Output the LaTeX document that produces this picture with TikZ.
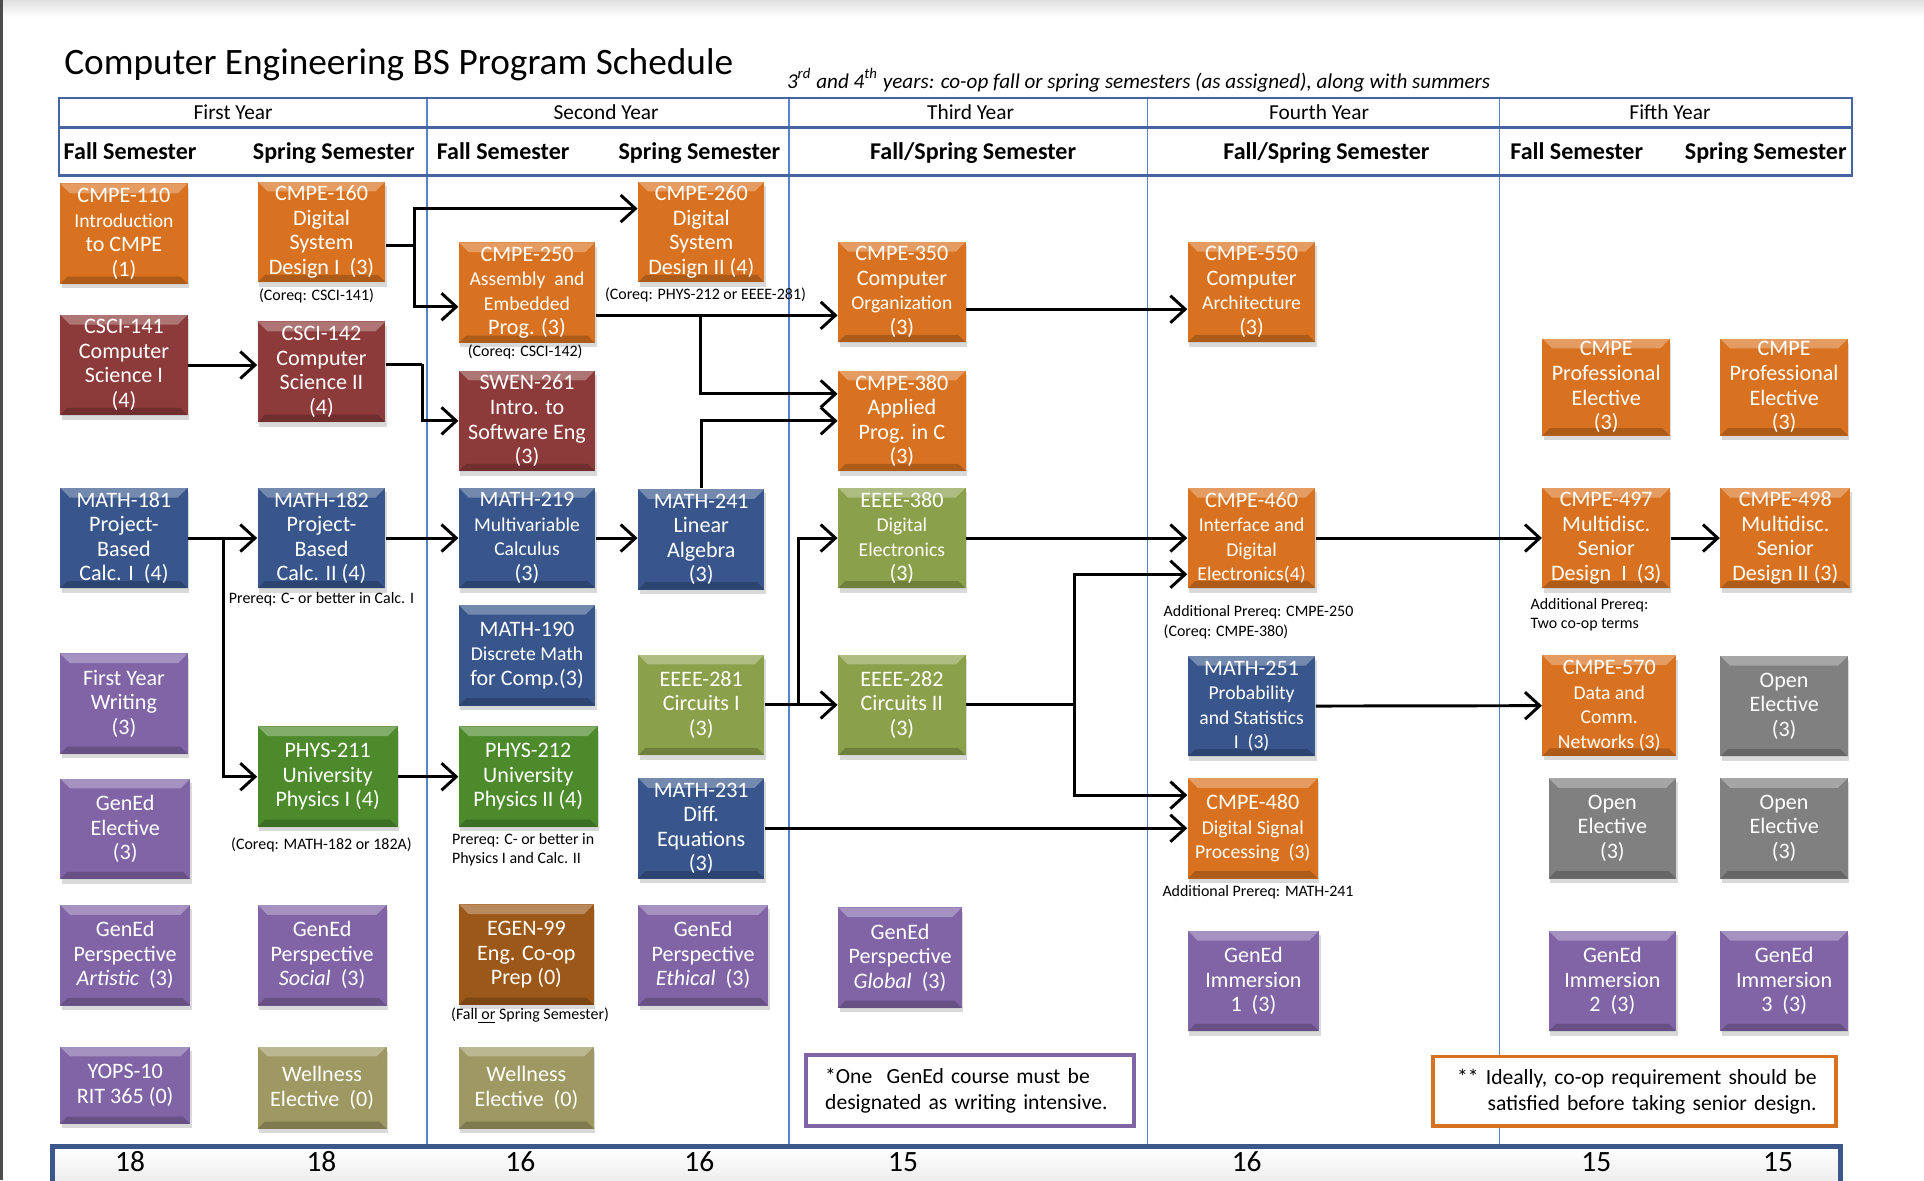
\documentclass[tikz,border=0pt]{standalone}
\usepackage{fontspec}
\setmainfont{Carlito}
\usetikzlibrary{arrows.meta,shadows}

\definecolor{corange}{RGB}{217,114,32}
\definecolor{cred}{RGB}{140,58,58}
\definecolor{cblue}{RGB}{56,86,140}
\definecolor{cpurple}{RGB}{128,100,166}
\definecolor{cgreen}{RGB}{76,138,44}
\definecolor{colive}{RGB}{138,160,74}
\definecolor{cbrown}{RGB}{156,88,24}
\definecolor{ckhaki}{RGB}{158,152,98}
\definecolor{cgray}{RGB}{128,128,128}
\definecolor{rulecol}{RGB}{90,130,200}
\definecolor{hdrcol}{RGB}{70,100,160}
\definecolor{barcol}{RGB}{60,88,138}

\newcommand\sm[1]{{\fontsize{8}{10}\selectfont #1}}

\tikzset{
  course/.style={fill=#1, text=white, align=center, inner sep=1pt,
    minimum width=52pt, minimum height=41pt,
    font=\fontsize{9}{10}\selectfont,
    drop shadow={shadow xshift=0.6pt, shadow yshift=-1.8pt, opacity=0.3},
    path picture={
      \fill[white,opacity=0.3] (path picture bounding box.north west) -- (path picture bounding box.north east)
        -- ([xshift=-4pt,yshift=-4pt]path picture bounding box.north east) -- ([xshift=4pt,yshift=-4pt]path picture bounding box.north west) -- cycle;
      \fill[black,opacity=0.2] (path picture bounding box.south west) -- (path picture bounding box.south east)
        -- ([xshift=-3pt,yshift=3pt]path picture bounding box.south east) -- ([xshift=3pt,yshift=3pt]path picture bounding box.south west) -- cycle;
    }},
  orangebox/.style={course=corange},
  redbox/.style={course=cred},
  bluebox/.style={course=cblue},
  purplebox/.style={course=cpurple},
  greenbox/.style={course=cgreen},
  olivebox/.style={course=colive},
  brownbox/.style={course=cbrown},
  khakibox/.style={course=ckhaki},
  graybox/.style={course=cgray},
  yearlabel/.style={anchor=base, font=\fontsize{8.7}{10}\selectfont, inner sep=0pt},
  semlabel/.style={anchor=base, font=\fontsize{9.8}{11}\selectfont\bfseries, inner sep=0pt},
  credit/.style={anchor=base, font=\fontsize{12}{14}\selectfont, inner sep=0pt},
  remark/.style={font=\fontsize{6.5}{8}\selectfont, inner sep=0pt},
  wire/.style={line width=1.2pt},
  link/.style={line width=1.2pt, -{Straight Barb[length=6pt,width=11pt]}},
  infobox/.style={fill=white, line width=1.6pt, inner xsep=8pt, inner ysep=0pt, font=\fontsize{8.8}{10.5}\selectfont}
}

\begin{document}
\begin{tikzpicture}[x=0.5pt,y=-0.5pt]
\useasboundingbox (0,0) rectangle (1568,962);
% page edges
\shade[top color=black!12, bottom color=white] (0,0) rectangle (1568,14);
\draw[line width=1.5pt, black!70] (0.8,0) -- (0.8,962);

% title
\node[anchor=base west, inner sep=0pt, font=\fontsize{15.2}{18}\selectfont] (title) at (52,61) {Computer Engineering BS Program Schedule};
\node[anchor=base west, inner sep=0pt, font=\fontsize{8.6}{10}\selectfont\itshape] (coop) at (641,72)
  {3\textsuperscript{rd} and 4\textsuperscript{th} years: co-op fall or spring semesters (as assigned), along with summers};

% header table
\foreach \x in {348,643,935,1222}
  \draw[rulecol, line width=0.6pt] (\x,80) -- (\x,933);
\draw[hdrcol, line width=0.9pt] (48,80) rectangle (1509,143);
\draw[hdrcol, line width=1.4pt] (48,104) -- (1509,104);
\foreach \x/\yr in {190/First Year,494/Second Year,791/Third Year,1075/Fourth Year,1361/Fifth Year}
  \node[yearlabel] (yr\x) at (\x,97) {\yr};
\foreach \x/\sem in {106/Fall Semester,272/Spring Semester,410/Fall Semester,570/Spring Semester,
                     793/{Fall/Spring Semester},1081/{Fall/Spring Semester},1285/Fall Semester,1439/Spring Semester}
  \node[semlabel] (sem\x) at (\x,130) {\sem};

% credits per semester
\draw[barcol, line width=2pt, top color=white, bottom color=black!12] (43,934) rectangle (1500,985);
\foreach \x/\cr in {106/18,262/18,424/16,570/16,736/15,1016/16,1301/15,1449/15}
  \node[credit] (cr\x) at (\x,955) {\cr};

% first year fall
\node[orangebox] (c110) at (101,190.5) {CMPE-110\\\sm{Introduction}\\to CMPE\\(1)};
\node[redbox] (cs141) at (101,297.5) {CSCI-141\\Computer\\Science I\\(4)};
\node[bluebox] (m181) at (101,438.5) {MATH-181\\Project-\\Based\\Calc. I~~(4)};
\node[purplebox] (fyw) at (101,573.5) {First Year\\Writing\\(3)};
\node[purplebox, minimum width=53pt] (gel) at (102,675.5) {GenEd\\Elective\\(3)};
\node[purplebox, minimum width=53pt] (gart) at (102,778.5) {GenEd\\Perspective\\\textit{Artistic}~~(3)};
\node[purplebox, minimum width=53pt, minimum height=31.5pt] (yops) at (102,884.5) {YOPS-10\\RIT 365 (0)};

% first year spring
\node[orangebox] (c160) at (262,189) {CMPE-160\\Digital\\System\\Design I~~(3)};
\node[redbox] (cs142) at (262,303) {CSCI-142\\Computer\\Science II\\(4)};
\node[bluebox] (m182) at (262,438.5) {MATH-182\\Project-\\Based\\Calc. II (4)};
\node[greenbox, minimum width=57pt] (p211) at (267,633) {PHYS-211\\University\\Physics I (4)};
\node[purplebox, minimum width=52.5pt] (gsoc) at (262.5,778.5) {GenEd\\Perspective\\\textit{Social}~~(3)};
\node[khakibox, minimum width=52.5pt, minimum height=33.5pt] (well1) at (262.5,886.5) {Wellness\\Elective~~(0)};

% second year fall
\node[orangebox, minimum width=55.5pt] (c250) at (429.5,238.5) {CMPE-250\\\sm{Assembly~ and}\\\sm{Embedded}\\Prog. (3)};
\node[redbox, minimum width=55.5pt] (sw261) at (429.5,343) {SWEN-261\\Intro. to\\Software Eng\\(3)};
\node[bluebox, minimum width=55.5pt] (m219) at (429.5,438.5) {MATH-219\\\sm{Multivariable}\\\sm{Calculus}\\(3)};
\node[bluebox, minimum width=55.5pt] (m190) at (429.5,534) {MATH-190\\\sm{Discrete Math}\\for Comp.(3)};
\node[greenbox, minimum width=56.5pt] (p212) at (430.5,633) {PHYS-212\\University\\Physics II (4)};
\node[brownbox, minimum width=55pt] (eg99) at (429,778) {EGEN-99\\Eng. Co-op\\Prep (0)};
\node[khakibox, minimum width=55pt, minimum height=33.5pt] (well2) at (429,886.5) {Wellness\\Elective~~(0)};

% second year spring
\node[orangebox, minimum width=51.5pt] (c260) at (571.5,189) {CMPE-260\\Digital\\System\\Design II (4)};
\node[bluebox, minimum width=51.5pt] (m241) at (571.5,439.5) {MATH-241\\Linear\\Algebra\\(3)};
\node[olivebox, minimum width=51.5pt] (e281) at (571.5,574.5) {EEEE-281\\Circuits I\\(3)};
\node[bluebox, minimum width=51.5pt] (m231) at (571.5,675) {MATH-231\\Diff.\\Equations\\(3)};
\node[purplebox, minimum width=53pt] (geth) at (573,778.5) {GenEd\\Perspective\\\textit{Ethical}~~(3)};

% third year
\node[orangebox] (c350) at (735,238) {CMPE-350\\Computer\\\sm{Organization}\\(3)};
\node[orangebox] (c380) at (735,343) {CMPE-380\\Applied\\Prog. in C\\(3)};
\node[olivebox] (e380) at (735,438.5) {EEEE-380\\\sm{Digital}\\\sm{Electronics}\\(3)};
\node[olivebox] (e282) at (735,574.5) {EEEE-282\\Circuits II\\(3)};
\node[purplebox, minimum width=50.5pt] (gglob) at (733.5,780.5) {GenEd\\Perspective\\\textit{Global}~~(3)};

% fourth year
\node[orangebox] (c550) at (1020,238) {CMPE-550\\Computer\\\sm{Architecture}\\(3)};
\node[orangebox] (c460) at (1020,438.5) {CMPE-460\\\sm{Interface and}\\\sm{Digital}\\\sm{Electronics(4)}};
\node[bluebox] (m251) at (1020,575.5) {MATH-251\\\sm{Probability}\\\sm{and Statistics}\\\sm{I~~(3)}};
\node[orangebox, minimum width=53pt] (c480) at (1021,675) {CMPE-480\\\sm{Digital Signal}\\\sm{Processing~~(3)}};
\node[purplebox, minimum width=53.5pt] (gim1) at (1021.5,799.5) {GenEd\\Immersion\\1~~(3)};

% fifth year fall
\node[orangebox, minimum height=39.5pt] (pe9) at (1309,315.5) {CMPE\\Professional\\Elective\\(3)};
\node[orangebox] (c497) at (1309,438.5) {CMPE-497\\Multidisc.\\Senior\\Design~ I~~(3)};
\node[orangebox, minimum width=54.5pt] (c570) at (1311.5,575) {CMPE-570\\\sm{Data and}\\\sm{Comm.}\\\sm{Networks (3)}};
\node[graybox] (open1) at (1314,675) {Open\\Elective\\(3)};
\node[purplebox] (gim2) at (1314,799.5) {GenEd\\Immersion\\2~~(3)};

% fifth year spring
\node[orangebox, minimum height=39.5pt] (pe10) at (1454,315.5) {CMPE\\Professional\\Elective\\(3)};
\node[orangebox, minimum width=53pt] (c498) at (1455,438.5) {CMPE-498\\Multidisc.\\Senior\\Design II (3)};
\node[graybox] (open2) at (1454,575.5) {Open\\Elective\\(3)};
\node[graybox] (open3) at (1454,675) {Open\\Elective\\(3)};
\node[purplebox] (gim3) at (1454,799.5) {GenEd\\Immersion\\3~~(3)};

% prerequisite chains
\coordinate (j160) at (338,200);
\draw[wire] ([yshift=-5.5pt]c160.east) -- (j160);
\draw[link] (j160) |- ([yshift=9.5pt]c260.west);
\draw[link] (j160) |- ([yshift=-5.75pt]c250.west);
\draw[link] (cs141) -- (cs141 -| cs142.west);
\coordinate (j142) at (344,297);
\draw[wire] ([yshift=3pt]cs142.east) -- (j142);
\draw[link] (j142) |- (sw261.west);
\coordinate (j250) at (571,257);
\draw[wire] ([yshift=-9.25pt]c250.east) -- (j250);
\draw[link] (j250) -- (j250 -| c350.west);
\draw[link] (j250) |- ([yshift=11pt]c380.west);
\draw[link] (m241.north) |- (c380.west);
\draw[link] (m181) -- (m182);
\coordinate (j181) at (182,438.5);
\draw[link] (j181) |- (p211.west);
\draw[link] (m182) -- (m219);
\draw[link] (m219) -- (m219 -| m241.west);
\draw[link] (p211) -- (p212);
\draw[link] (e281) -- (e282);
\coordinate (j281) at (651,574.5);
\draw[link] (j281) |- (e380.west);
\draw[link] (e380) -- (c460);
\coordinate (j282) at (876,574.5);
\draw[wire] (e282) -- (j282);
\draw[link] (j282) |- ([yshift=-14.75pt]c460.west);
\draw[link] (j282) |- ([yshift=13.5pt]c480.west);
\draw[link] (m231) -- (c480);
\draw[link] ([yshift=-7pt]c350.east) -- ([yshift=-7pt]c550.west);
\draw[link] (c460) -- (c497);
\draw[link] (c497) -- (c498);
\draw[link] (m251) -- (c570);

% remarks under the courses
\node[remark] (q160) at (258,241) {(Coreq: CSCI-141)};
\node[remark] (q260) at (575,240) {(Coreq: PHYS-212 or EEEE-281)};
\node[remark] (q250) at (428,287) {(Coreq: CSCI-142)};
\node[remark] (q182) at (262,488) {Prereq: C- or better in Calc. I};
\node[remark] (q211) at (262,689) {(Coreq: MATH-182 or 182A)};
\node[remark, anchor=west, align=left] (q212) at (368,692.5) {Prereq: C- or better in\\Physics I and Calc. II};
\node[remark] (q99) at (432,828) {(Fall\underline{\ or} Spring Semester)};
\node[remark, anchor=west, align=left] (q460) at (948,507) {Additional Prereq: CMPE-250\\(Coreq: CMPE-380)};
\node[remark, anchor=west, align=left] (q497) at (1247,501) {Additional Prereq:\\Two co-op terms};
\node[remark, anchor=west] (q480) at (947,727) {Additional Prereq: MATH-241};

% footnotes
\node[infobox, draw=cpurple, text width=118pt, minimum height=29pt, align=left] (wnote) at (790.5,889)
  {*One~ GenEd course must be\\designated as writing intensive.};
\node[infobox, draw=corange, text width=148.5pt, minimum height=28.5pt, align=right] (cnote) at (1332,889.5)
  {** Ideally, co-op requirement should be\\satisfied before taking senior design.};
\end{tikzpicture}
\end{document}
